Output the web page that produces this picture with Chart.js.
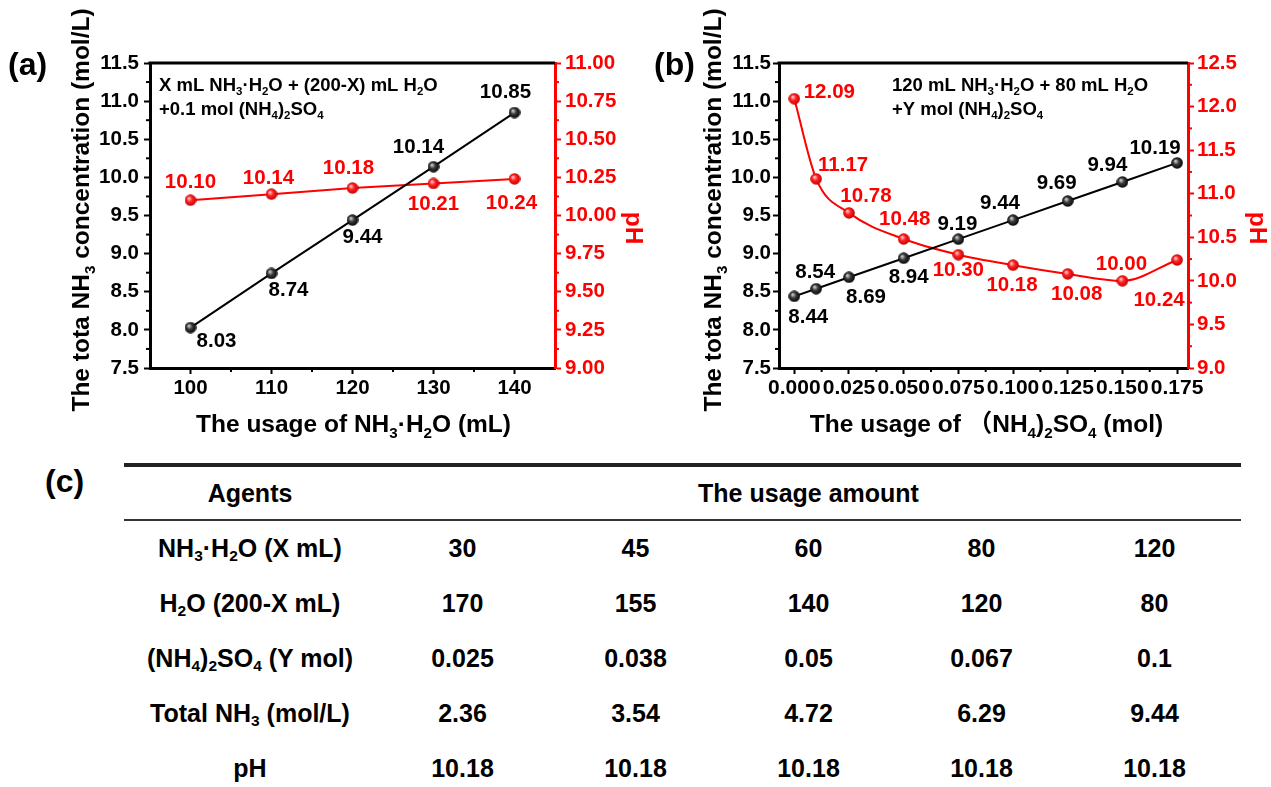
<!DOCTYPE html>
<html>
<head>
<meta charset="utf-8">
<title>NH3 concentration and pH</title>
<script src="https://cdn.jsdelivr.net/npm/chart.js@4.4.1/dist/chart.umd.min.js"></script>
<style>
  body { margin: 0; background: #fff; width: 1271px; height: 787px; position: relative; overflow: hidden; }
  canvas { position: absolute; top: 0; }
  #chartA { left: 0; }
  #chartB { left: 640px; }
  .panel { position: absolute; font: bold 32px 'Liberation Sans', Arial, sans-serif; line-height: 1; }
  #usage { position: absolute; left: 124px; top: 463px; border-collapse: separate; border-spacing: 0;
           font: bold 25px 'Liberation Sans', Arial, sans-serif; color: #000; table-layout: fixed; }
  #usage th { border-top: 4px solid #222; border-bottom: 2px solid #333; height: 52px; padding: 0; font-weight: bold; }
  #usage td { height: 55px; padding: 0; text-align: center; }
  #usage sub { font-size: 0.62em; vertical-align: -0.25em; line-height: 0; }
</style>
</head>
<body>
<canvas id="chartA" width="650" height="450"></canvas>
<canvas id="chartB" width="631" height="450"></canvas>
<div class="panel" style="left:45px; top:465px;">(c)</div>
<table id="usage">
  <colgroup><col style="width:252px"><col style="width:173px"><col style="width:173px"><col style="width:173px"><col style="width:173px"><col style="width:173px"></colgroup>
  <thead><tr><th>Agents</th><th colspan="5">The usage amount</th></tr></thead>
  <tbody id="usage-body"></tbody>
</table>
<script>
// ---- panel (a): X mL NH3·H2O + (200-X) mL H2O + 0.1 mol (NH4)2SO4 ----
const xA = [100, 110, 120, 130, 140];
const nh3A = [8.03, 8.74, 9.44, 10.14, 10.85];
const phA = [10.10, 10.14, 10.18, 10.21, 10.24];
const xTicksA = [100, 110, 120, 130, 140];
const nh3Ticks = [7.5, 8.0, 8.5, 9.0, 9.5, 10.0, 10.5, 11.0, 11.5];
const phTicksA = [9.00, 9.25, 9.50, 9.75, 10.00, 10.25, 10.50, 10.75, 11.00];

// ---- panel (b): 120 mL NH3·H2O + 80 mL H2O + Y mol (NH4)2SO4 ----
const xB = [0, 0.01, 0.025, 0.05, 0.075, 0.1, 0.125, 0.15, 0.175];
const nh3B = [8.44, 8.54, 8.69, 8.94, 9.19, 9.44, 9.69, 9.94, 10.19];
const phB = [12.09, 11.17, 10.78, 10.48, 10.30, 10.18, 10.08, 10.00, 10.24];
const xTicksB = [0, 0.025, 0.05, 0.075, 0.1, 0.125, 0.15, 0.175];
const phTicksB = [9.0, 9.5, 10.0, 10.5, 11.0, 11.5, 12.0, 12.5];

// ---- panel (c): usage table ----
const agents = ['NH_3·H_2O (X mL)', 'H_2O (200-X mL)', '(NH_4)_2SO_4 (Y mol)', 'Total NH_3 (mol/L)', 'pH'];
const ammoniaMl = ['30', '45', '60', '80', '120'];
const waterMl = ['170', '155', '140', '120', '80'];
const sulfateMol = ['0.025', '0.038', '0.05', '0.067', '0.1'];
const totalNh3 = ['2.36', '3.54', '4.72', '6.29', '9.44'];
const phTable = ['10.18', '10.18', '10.18', '10.18', '10.18'];

const FONT = "'Liberation Sans', Arial, 'Noto Sans CJK SC', sans-serif";
const RED = '#ff0000';

// "NH_3" -> [{t:'NH'}, {t:'3', sub:true}]
const splitSub = (s) => s.split(/_(\d)/).map((t, i) => ({ t, sub: i % 2 === 1 })).filter(p => p.t);

const drawRich = (ctx, s, x, y, size, opts = {}) => {
  const parts = splitSub(s);
  const font = (sz) => `bold ${sz}px ${FONT}`;
  let w = 0;
  parts.forEach(p => {
    ctx.font = font(p.sub ? size * 0.62 : size);
    p.w = ctx.measureText(p.t).width;
    w += p.w;
  });
  ctx.save();
  ctx.translate(x, y);
  if (opts.rotate) ctx.rotate(opts.rotate);
  ctx.fillStyle = opts.color || '#000';
  ctx.textAlign = 'left';
  ctx.textBaseline = 'alphabetic';
  let cx = opts.align === 'left' ? 0 : -w / 2;
  const base = size * 0.36;
  parts.forEach(p => {
    ctx.font = font(p.sub ? size * 0.62 : size);
    ctx.fillText(p.t, cx, base + (p.sub ? size * 0.24 : 0));
    cx += p.w;
  });
  ctx.restore();
};

// shaded ball used as point marker
const ball = (light, mid, dark) => {
  const c = document.createElement('canvas');
  c.width = c.height = 12;
  const g = c.getContext('2d');
  const grd = g.createRadialGradient(4.2, 4, 0.3, 6, 6, 6);
  grd.addColorStop(0, light);
  grd.addColorStop(0.45, mid);
  grd.addColorStop(1, dark);
  g.fillStyle = grd;
  g.beginPath();
  g.arc(6, 6, 5.8, 0, Math.PI * 2);
  g.fill();
  return c;
};
const blackBall = ball('#d8d8d8', '#3a3a3a', '#000');
const redBall = ball('#ffd0d0', '#ff2020', '#c00000');

const points = (xs, ys) => xs.map((x, i) => ({ x, y: ys[i] }));
const fixedTicks = (list) => (scale) => { scale.ticks = list.map(value => ({ value })); };

const axis = (o) => ({
  type: 'linear',
  position: o.position,
  min: o.min,
  max: o.max,
  afterBuildTicks: fixedTicks(o.ticks),
  afterFit: (s) => { if (o.position === 'bottom') s.height = o.size; else s.width = o.size; },
  ticks: {
    font: { family: FONT, size: o.fontSize || 20.5, weight: 'bold' },
    color: o.color,
    padding: o.padding,
    autoSkip: false,
    maxRotation: 0,
    callback: (v) => Number(v).toFixed(o.digits)
  },
  grid: { drawOnChartArea: false, drawTicks: true, tickLength: 6, tickWidth: 2, tickColor: o.color },
  border: { color: o.color, width: 3 }
});

// labels, frame top, minor ticks, titles and notes
const figurePlugin = (cfg) => ({
  id: 'figure',
  afterDatasetsDraw(chart) {
    const ctx = chart.ctx;
    ctx.save();
    ctx.font = `bold 20.5px ${FONT}`;
    ctx.textAlign = 'center';
    ctx.textBaseline = 'middle';
    chart.data.datasets.forEach((ds, di) => {
      const meta = chart.getDatasetMeta(di);
      ctx.fillStyle = ds.borderColor;
      meta.data.forEach((pt, i) => {
        const [dx, dy] = cfg.offsets[di][i];
        ctx.fillText(ds.data[i].y.toFixed(2), pt.x + dx, pt.y + dy);
      });
    });
    ctx.restore();
  },
  afterDraw(chart) {
    const ctx = chart.ctx;
    const a = chart.chartArea;
    ctx.save();
    // top edge of the frame
    ctx.strokeStyle = '#000';
    ctx.lineWidth = 3;
    ctx.beginPath();
    ctx.moveTo(a.left - 1.5, a.top);
    ctx.lineTo(a.right, a.top);
    ctx.stroke();

    // one minor tick between each pair of majors
    ctx.lineWidth = 2;
    Object.values(chart.scales).forEach(s => {
      const t = s.ticks.map(k => k.value);
      ctx.strokeStyle = s.options.border.color;
      for (let i = 0; i < t.length - 1; i++) {
        const p = s.getPixelForValue((t[i] + t[i + 1]) / 2);
        ctx.beginPath();
        if (s.position === 'bottom') { ctx.moveTo(p, a.bottom); ctx.lineTo(p, a.bottom + 4); }
        else if (s.position === 'left') { ctx.moveTo(a.left, p); ctx.lineTo(a.left - 4, p); }
        else { ctx.moveTo(a.right, p); ctx.lineTo(a.right + 4, p); }
        ctx.stroke();
      }
    });
    ctx.restore();

    drawRich(ctx, cfg.xTitle, (a.left + a.right) / 2 + cfg.xTitleShift, 423, 24.5);
    drawRich(ctx, 'The tota NH_3 concentration (mol/L)', cfg.yTitleX, 210, 24.5, { rotate: -Math.PI / 2 });
    drawRich(ctx, 'pH', cfg.phTitleX, 228, 24.5, { rotate: Math.PI / 2, color: RED });
    cfg.notes.forEach((line, i) => drawRich(ctx, line, cfg.noteX, 84 + i * 24, 18.5, { align: 'left' }));

    ctx.save();
    ctx.font = `bold 32px ${FONT}`;
    ctx.fillStyle = '#000';
    ctx.textBaseline = 'middle';
    ctx.fillText(cfg.panel, cfg.panelX, 66);
    ctx.restore();
  }
});

const lineSet = (xs, ys, axisId, color, marker, smooth) => ({
  data: points(xs, ys),
  yAxisID: axisId,
  borderColor: color,
  borderWidth: 2,
  pointStyle: marker,
  pointRadius: 6,
  tension: smooth ? 0.4 : 0,
  cubicInterpolationMode: smooth ? 'monotone' : 'default'
});

const baseOptions = (scales) => ({
  responsive: false,
  animation: false,
  devicePixelRatio: 1,
  layout: { padding: { top: 63, left: 0, right: 0, bottom: 0 } },
  plugins: { legend: { display: false }, tooltip: { enabled: false } },
  scales
});

new Chart(document.getElementById('chartA'), {
  type: 'line',
  data: {
    datasets: [
      lineSet(xA, nh3A, 'y', '#000', blackBall, false),
      lineSet(xA, phA, 'y2', RED, redBall, false)
    ]
  },
  options: baseOptions({
    x: axis({ position: 'bottom', min: 95, max: 145, ticks: xTicksA, size: 82, color: '#000', padding: 2, digits: 0 }),
    y: axis({ position: 'left', min: 7.5, max: 11.5, ticks: nh3Ticks, size: 150, color: '#000', padding: 5, digits: 1 }),
    y2: axis({ position: 'right', min: 9, max: 11, ticks: phTicksA, size: 95, color: RED, padding: 4, digits: 2 })
  }),
  plugins: [figurePlugin({
    panel: '(a)', panelX: 8,
    xTitle: 'The usage of NH_3·H_2O (mL)', xTitleShift: 1,
    yTitleX: 80, phTitleX: 635,
    noteX: 159,
    notes: ['X mL NH_3·H_2O + (200-X) mL H_2O', '+0.1 mol (NH_4)_2SO_4'],
    offsets: [
      [[26, 14], [17, 17], [10, 17], [-15, -19], [-9, -20]],
      [[0, -18], [-3, -16], [-4, -20], [0, 21], [-3, 24]]
    ]
  })]
});

new Chart(document.getElementById('chartB'), {
  type: 'line',
  data: {
    datasets: [
      lineSet(xB, nh3B, 'y', '#000', blackBall, false),
      lineSet(xB, phB, 'y2', RED, redBall, true)
    ]
  },
  options: baseOptions({
    x: axis({ position: 'bottom', min: -0.007, max: 0.18, ticks: xTicksB, size: 82, color: '#000', padding: 2, digits: 3, fontSize: 21 }),
    y: axis({ position: 'left', min: 7.5, max: 11.5, ticks: nh3Ticks, size: 139, color: '#000', padding: 2, digits: 1 }),
    y2: axis({ position: 'right', min: 9, max: 12.5, ticks: phTicksB, size: 83, color: RED, padding: 3, digits: 1 })
  }),
  plugins: [figurePlugin({
    panel: '(b)', panelX: 14,
    xTitle: 'The usage of （NH_4)_2SO_4 (mol)', xTitleShift: 3,
    yTitleX: 72, phTitleX: 619,
    noteX: 252,
    notes: ['120 mL NH_3·H_2O + 80 mL H_2O', '+Y mol (NH_4)_2SO_4'],
    offsets: [
      [[14, 21], [-1, -16], [17, 20], [5, 19], [-1, -15], [-13, -17], [-11, -18], [-15, -17], [-22, -15]],
      [[35, -6], [27, -14], [17, -17], [1, -20], [0, 16], [-1, 20], [9, 20], [-1, -17], [-18, 40]]
    ]
  })]
});

// table body, one row per agent
const sub = (s) => s.replace(/_(\d)/g, '<sub>$1</sub>');
const rows = [ammoniaMl, waterMl, sulfateMol, totalNh3, phTable];
document.getElementById('usage-body').innerHTML = agents.map((name, i) =>
  `<tr><td>${sub(name)}</td>${rows[i].map(v => `<td>${v}</td>`).join('')}</tr>`
).join('');
</script>
</body>
</html>
